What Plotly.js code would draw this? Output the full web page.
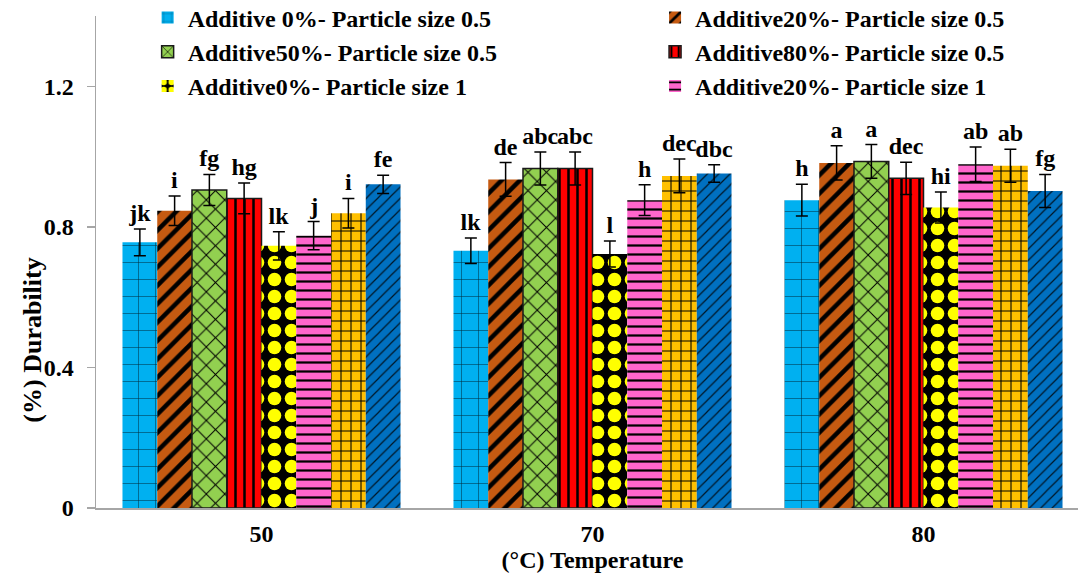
<!DOCTYPE html>
<html><head><meta charset="utf-8">
<script src="https://cdn.plot.ly/plotly-3.0.1.min.js"></script>
<style>html,body{margin:0;padding:0;overflow:hidden;background:#fff}</style>
</head><body><div id="chart" style="width:1092px;height:574px"></div>
<script>
const temperatures = ['50', '70', '80'];
const seriesNames = [
  'Additive 0%- Particle size 0.5',
  'Additive20%- Particle size 0.5',
  'Additive50%- Particle size 0.5',
  'Additive80%- Particle size 0.5',
  'Additive0%- Particle size 1',
  'Additive20%- Particle size 1',
  'Additive50%- Particle size 1',
  'Additive80%- Particle size 1'
];
const add0_05  = [0.756, 0.732, 0.876];
const add20_05 = [0.846, 0.935, 0.982];
const add50_05 = [0.905, 0.966, 0.986];
const add80_05 = [0.881, 0.966, 0.938];
const add0_1   = [0.746, 0.723, 0.855];
const add20_1  = [0.775, 0.876, 0.978];
const add50_1  = [0.839, 0.945, 0.974];
const add80_1  = [0.921, 0.952, 0.902];

const err0_05  = [0.038, 0.036, 0.045];
const err20_05 = [0.042, 0.048, 0.049];
const err50_05 = [0.044, 0.047, 0.048];
const err80_05 = [0.044, 0.047, 0.046];
const err0_1   = [0.040, 0.037, 0.044];
const err20_1  = [0.040, 0.044, 0.049];
const err50_1  = [0.042, 0.048, 0.047];
const err80_1  = [0.026, 0.025, 0.047];

const lab0_05  = ['jk', 'lk', 'h'];
const lab20_05 = ['i', 'de', 'a'];
const lab50_05 = ['fg', 'abc', 'a'];
const lab80_05 = ['hg', 'abc', 'dec'];
const lab0_1   = ['lk', 'l', 'hi'];
const lab20_1  = ['j', 'h', 'ab'];
const lab50_1  = ['i', 'dec', 'ab'];
const lab80_1  = ['fe', 'dbc', 'fg'];

const values = [add0_05, add20_05, add50_05, add80_05, add0_1, add20_1, add50_1, add80_1];
const errors = [err0_05, err20_05, err50_05, err80_05, err0_1, err20_1, err50_1, err80_1];
const letters = [lab0_05, lab20_05, lab50_05, lab80_05, lab0_1, lab20_1, lab50_1, lab80_1];

function bold(sz) { return {family:'Liberation Serif', size:sz || 24, weight:'bold', color:'#000000'}; }

const styles = [
  {color:'#00B0F0', pattern:{shape:'+', fgcolor:'#000', bgcolor:'#00B0F0', size:17, solidity:0.06, fgopacity:0.75}, line:0},
  {color:'#C55A11', pattern:{shape:'/', fgcolor:'#000', bgcolor:'#C55A11', size:13, solidity:0.35}, line:0},
  {color:'#92D050', pattern:{shape:'x', fgcolor:'#000', bgcolor:'#92D050', size:13, solidity:0.15}, line:1.5},
  {color:'#FF0000', pattern:{shape:'|', fgcolor:'#000', bgcolor:'#FF0000', size:9, solidity:0.28}, line:1.5},
  {color:'#FFFF00', pattern:{shape:'.', fgcolor:'#FFFF00', bgcolor:'#000', size:17, solidity:0.5}, line:0},
  {color:'#FF66CC', pattern:{shape:'-', fgcolor:'#000', bgcolor:'#FF66CC', size:9, solidity:0.25}, line:0},
  {color:'#FFC000', pattern:{shape:'+', fgcolor:'#000', bgcolor:'#FFC000', size:10, solidity:0.2}, line:0},
  {color:'#0070C0', pattern:{shape:'/', fgcolor:'#000', bgcolor:'#0070C0', size:8, solidity:0.15, fgopacity:0.8}, line:0}
];

const traces = [];
values.forEach((v, i) => {
  const st = styles[i];
  traces.push({
    type:'bar', name:seriesNames[i], x:temperatures, y:v,
    offsetgroup:'g'+i, showlegend: i < 6,
    legend: (i % 2 === 0) ? 'legend' : 'legend2',
    marker:{color:st.color, pattern:Object.assign({fillmode:'replace'}, st.pattern),
            line:{color:'#1a1a1a', width:st.line}},
    error_y:{type:'data', array:errors[i], visible:true, color:'#000', thickness:1.5, width:6},
    hoverinfo:'x+y+name'
  });
});
values.forEach((v, i) => {
  traces.push({
    type:'bar', name:seriesNames[i]+' labels', x:temperatures,
    y:v.map((val, k) => val + errors[i][k]),
    offsetgroup:'g'+i, showlegend:false, hoverinfo:'skip',
    marker:{color:'rgba(0,0,0,0)', line:{width:0}},
    text:letters[i], textposition:'outside', constraintext:'none', cliponaxis:false,
    textfont:bold(), outsidetextfont:bold()
  });
});

function legendCfg(x) {
  return {orientation:'v', yanchor:'top', xanchor:'left', y:1.0417, x:x,
    bgcolor:'rgba(0,0,0,0)', font:bold(), traceorder:'normal', itemwidth:30, tracegroupgap:0};
}

const layout = {
  width:1092, height:574,
  margin:{l:96, r:3, t:16, b:66, autoexpand:false},
  paper_bgcolor:'#fff', plot_bgcolor:'#fff',
  barmode:'group', bargap:0.16, bargroupgap:0,
  showlegend:true,
  legend:legendCfg(0.052),
  legend2:legendCfg(0.563),
  xaxis:{type:'category', showline:true, linecolor:'#A6A6A6', linewidth:1.5,
         ticks:'', showgrid:false, zeroline:false, ticklabelstandoff:4,
         tickfont:bold(),
         title:{text:'(°C) Temperature', standoff:0, font:bold()}},
  yaxis:{range:[0, 1.4], tick0:0, dtick:0.4, showline:true, linecolor:'#A6A6A6', linewidth:1.5,
         ticks:'outside', ticklen:8, tickcolor:'#A6A6A6', tickwidth:1.5, ticklabelstandoff:8,
         showgrid:false, zeroline:false, tickfont:bold()},
  annotations:[{text:'(%) Durability', textangle:-90, xref:'paper', yref:'paper',
                x:-0.064, y:0.341, xanchor:'center', yanchor:'middle', showarrow:false,
                font:bold(26)}]
};

Plotly.newPlot('chart', traces, layout, {displayModeBar:false, staticPlot:true});
</script></body></html>
